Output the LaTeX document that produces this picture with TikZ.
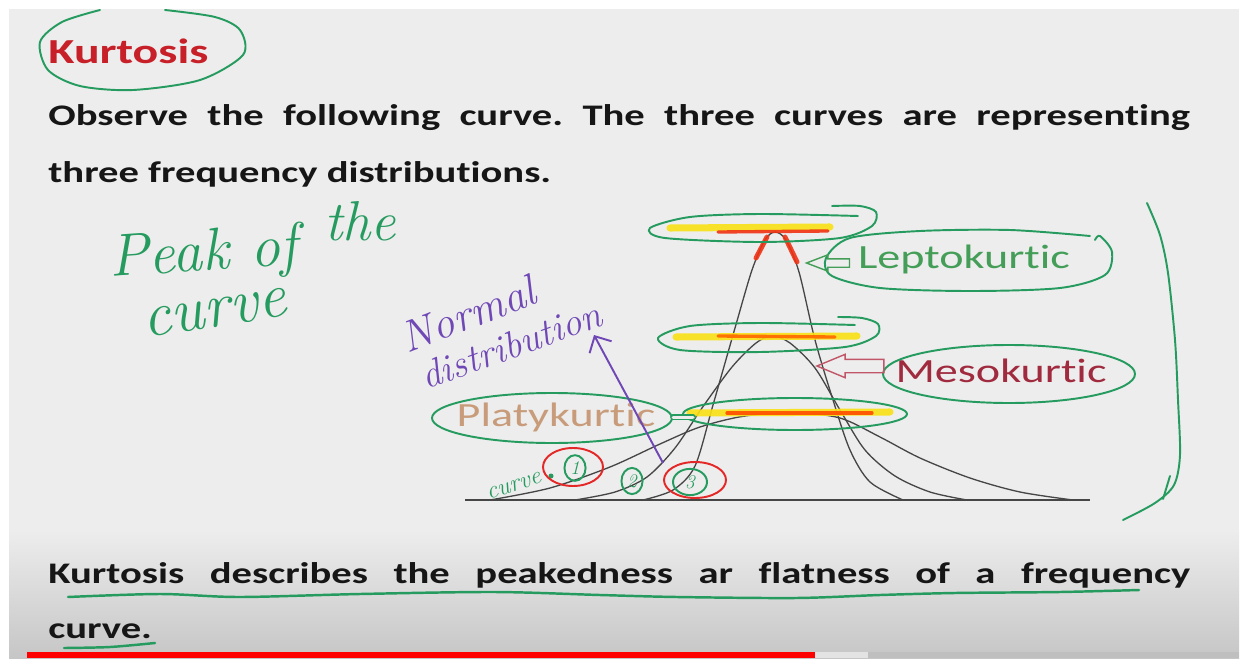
\documentclass[tikz,border=0pt]{standalone}
\usepackage{fontspec}
\newfontfamily\slidefont[Ligatures={NoCommon}]{Carlito}
\usetikzlibrary{arrows.meta,positioning,shapes.geometric,shapes.arrows}
\definecolor{slidebg}{RGB}{237,237,237}
\definecolor{inkblack}{RGB}{22,22,22}
\definecolor{titlered}{RGB}{200,32,40}
\definecolor{handgreen}{RGB}{38,155,95}
\definecolor{leptogreen}{RGB}{68,158,88}
\definecolor{mesored}{RGB}{160,42,62}
\definecolor{mesopink}{RGB}{192,86,104}
\definecolor{platytan}{RGB}{200,156,122}
\definecolor{penpurple}{RGB}{112,72,182}
\definecolor{penred}{RGB}{228,40,40}
\definecolor{markyellow}{RGB}{250,225,20}
\definecolor{markred}{RGB}{240,50,20}
\definecolor{curvegray}{RGB}{70,70,70}
\newlength{\px}\setlength{\px}{0.02cm}
\newcommand{\stretchx}[1]{\scalebox{1.36}[1]{#1}}
\frenchspacing

\begin{document}
\begin{tikzpicture}[x=0.02cm, y=-0.02cm,
    slidetext/.style={anchor=base west, inner sep=0pt, text=inkblack,
      font=\slidefont\bfseries\fontsize{17pt}{20pt}\selectfont},
    kurvlabel/.style={inner sep=0pt, font=\slidefont\fontsize{19.3pt}{22pt}\selectfont},
    handline/.style={draw=handgreen, line width=1.1pt, line cap=round, line join=round},
    handtext/.style={inner sep=0pt, text=handgreen, font=\itshape\fontsize{34pt}{36pt}\selectfont},
    purpletext/.style={inner sep=0pt, text=penpurple, font=\itshape\fontsize{25pt}{27pt}\selectfont},
    freqcurve/.style={draw=curvegray, line width=0.75pt},
    marker/.style={line width=4pt, line cap=round, draw=markyellow, opacity=0.9},
    redmark/.style={line width=1.9pt, line cap=round, draw=markred, opacity=0.9},
    pointer/.style={single arrow, shape border rotate=180, inner xsep=0pt, line width=0.8pt},
    numcirc/.style={ellipse, draw=handgreen, line width=1.1pt, inner sep=1.5pt, text=handgreen,
      font=\itshape\fontsize{11pt}{12pt}\selectfont}
]
    % slide and player bar
    \fill[white] (0,0) rectangle (1248,659);
    \fill[slidebg] (9,9) rectangle (1239,659);
    \shade[top color=slidebg, bottom color=gray!45] (9,530) rectangle (1239,659);
    \fill[red] (27,652) rectangle (815,658);
    \fill[gray!22] (815,652) rectangle (868,658);
    \fill[gray!50] (868,652) rectangle (1239,658);

    % slide text
    \node[slidetext, text=titlered, font=\slidefont\bfseries\fontsize{20pt}{22pt}\selectfont] (title) at (48,63) {\stretchx{Kurtosis}};
    \node[slidetext] (obs1) at (48,125) {\stretchx{\makebox[839.7\px][s]{Observe the following curve. The three curves are representing}}};
    \node[slidetext] (obs2) at (48,182) {\stretchx{three frequency distributions.}};
    \node[slidetext] (def1) at (48,583) {\stretchx{\makebox[839.7\px][s]{Kurtosis describes the peakedness ar flatness of a frequency}}};
    \node[slidetext] (def2) at (48,638) {\stretchx{curve.}};

    % frequency curves
    \coordinate (axisL) at (465,500);
    \coordinate (axisR) at (1090,500);
    \draw[freqcurve, line width=0.9pt] (axisL) -- (axisR);
    \draw[freqcurve] plot[smooth] coordinates {(490,500) (550,488) (610,467) (660,444) (700,427) (745,416) (795,413) (840,418) (880,437) (920,458) (970,478) (1020,492) (1073,500)};
    \draw[freqcurve] plot[smooth] coordinates {(575,500) (615,492) (647,477) (675,448) (702,408) (732,367) (756,343) (772,336) (790,343) (815,368) (840,410) (865,450) (895,476) (930,492) (967,500)};
    \draw[freqcurve] plot[smooth] coordinates {(643,500) (673,490) (695,466) (713,405) (735,328) (752,270) (765,240) (775,232) (786,240) (799,272) (815,340) (833,400) (850,450) (870,482) (903,500)};

    % peak markers
    \draw[marker] (670,228) -- (830,227);
    \draw[redmark] (718,232) -- (828,231);
    \draw[redmark, line width=2.8pt] (767,237) -- (756,258);
    \draw[redmark, line width=2.8pt] (785,237) -- (797,262);
    \draw[marker] (676,337) -- (857,336);
    \draw[redmark, draw=orange!80!red] (718,336) -- (835,337);
    \draw[marker] (690,413) -- (890,412);
    \draw[redmark, draw=orange!60!red] (727,413) -- (872,413);

    % loops round the peaks
    \draw[handline] plot[smooth] coordinates {(858,216) (760,214) (690,217) (650,228) (665,238) (760,242) (840,238) (872,226) (876,212) (860,206) (832,206)};
    \draw[handline] plot[smooth] coordinates {(855,325) (760,323) (690,326) (658,338) (680,350) (760,352) (845,347) (876,336) (878,324) (862,318) (838,317)};
    \draw[handline] (795,414) ellipse [x radius=112\px, y radius=16\px];

    % curve names
    \node[kurvlabel, text=leptogreen] (lepto) at (964,259) {\stretchx{Leptokurtic}};
    \node[kurvlabel, text=mesored] (meso) at (1001,371) {\stretchx{Mesokurtic}};
    \node[kurvlabel, text=platytan] (platy) at (556,417) {\stretchx{Platykurtic}};
    \draw[handline] plot[smooth] coordinates {(1095,240) (1100,236) (1112,252) (1105,275) (1060,288) (970,291) (880,288) (832,276) (826,258) (850,238) (920,231) (1010,230) (1090,236)};
    \draw[handline] (1009,374) ellipse [x radius=126\px, y radius=29\px];
    \draw[handline] (552,418) ellipse [x radius=120\px, y radius=25\px];
    \node[pointer, draw=leptogreen, minimum height=43\px, inner ysep=3.5\px, single arrow head extend=4\px, single arrow tip angle=42] (leptoptr) at (833.5,263) {};
    \node[pointer, draw=mesopink, minimum height=67\px, inner ysep=6\px, single arrow head extend=5\px, single arrow tip angle=45] (mesoptr) at (858.5,366) {};
    \draw[handline, double=slidebg, double distance=3\px, line width=0.8pt] (673,417) -- (693,417);

    % handwritten notes
    \node[handtext, anchor=base west, rotate=4] (peak) at (110,277) {Peak of};
    \node[handtext, anchor=base west, font=\itshape\fontsize{32pt}{34pt}\selectfont] (the) at (324,240) {the};
    \node[handtext, anchor=base west, rotate=9, font=\itshape\fontsize{36pt}{38pt}\selectfont] (curvenote) at (145,338) {curve};
    \node[purpletext, rotate=21] (normal) at (468,314) {Normal};
    \node[purpletext, rotate=20, font=\itshape\fontsize{22pt}{24pt}\selectfont] (distrib) at (511,345) {distribution};
    \coordinate (normtail) at (663,463);
    \coordinate (normtip) at (594,335);
    \draw[penpurple, line width=1.1pt, -{Straight Barb[length=2.5mm,width=5mm]}] (normtail) -- (normtip);

    % curve numbers
    \node[handtext, rotate=18, font=\itshape\fontsize{14pt}{15pt}\selectfont] (curvetag) at (514,486) {curve};
    \fill[handgreen] (551,476) circle [radius=2.5\px];
    \node[numcirc] (c1) at (575,468) {1};
    \node[numcirc] (c2) at (632,481) {2};
    \node[numcirc, minimum width=34\px] (c3) at (690,482) {3};
    \draw[penred, line width=1.1pt] (573,467) ellipse [x radius=30\px, y radius=19\px];
    \draw[penred, line width=1.1pt] (695,480) ellipse [x radius=31\px, y radius=18\px];

    % bracket on the right
    \draw[handline] plot[smooth] coordinates {(1147,203) (1160,235) (1168,273) (1175,340) (1178,400) (1180,455) (1174,485) (1155,503) (1123,520)};
    \draw[handline] (1170,476) -- (1163,499);

    % title loop and underlines
    \draw[handline] plot[smooth] coordinates {(100,10) (62,22) (40,42) (48,70) (80,86) (133,90) (200,80) (243,55) (240,30) (215,17) (165,10)};
    \draw[handline, line width=1.4pt] plot[smooth] coordinates {(68,597) (160,594) (239,597) (360,594) (494,592) (600,595) (677,597) (796,598) (880,595) (955,593) (1060,592) (1139,590)};
    \draw[handline, line width=1.4pt] plot[smooth] coordinates {(64,648) (110,647) (155,643)};
\end{tikzpicture}
\end{document}
